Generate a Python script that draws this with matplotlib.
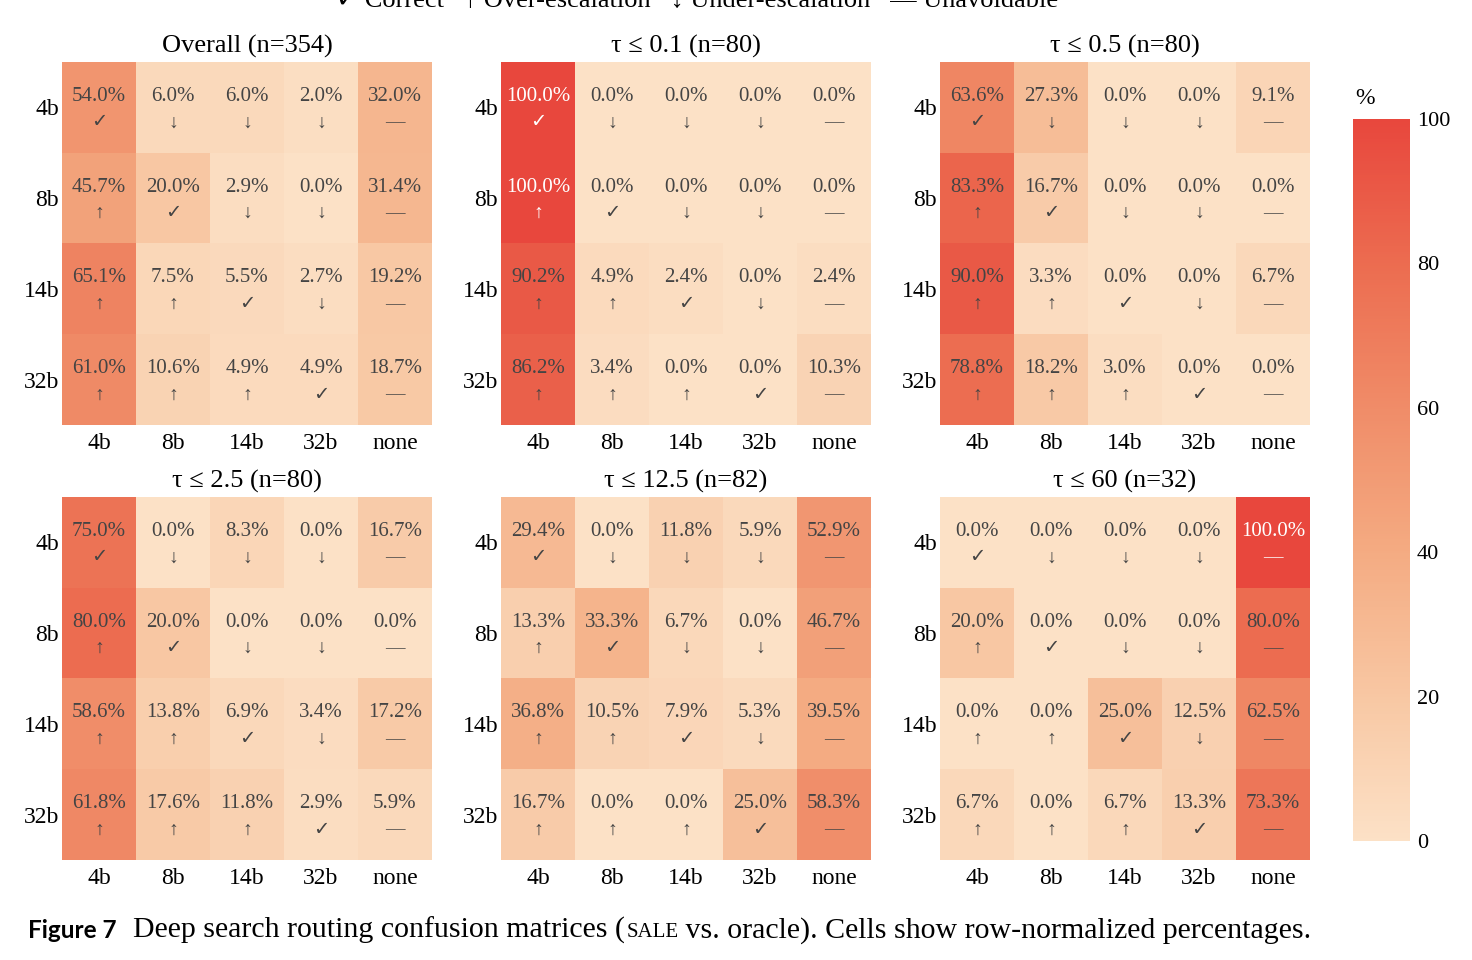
import numpy as np
import matplotlib
matplotlib.use("Agg")
import matplotlib.pyplot as plt
from matplotlib.colors import LinearSegmentedColormap
from matplotlib.text import Annotation

plt.rcParams['font.family'] = ['Liberation Serif', 'DejaVu Sans']

rows = ['4b', '8b', '14b', '32b']
cols = ['4b', '8b', '14b', '32b', 'none']

titles = ['Overall (n=354)', 'τ ≤ 0.1 (n=80)', 'τ ≤ 0.5 (n=80)',
          'τ ≤ 2.5 (n=80)', 'τ ≤ 12.5 (n=82)', 'τ ≤ 60 (n=32)']

overall = [[54.0, 6.0, 6.0, 2.0, 32.0],
           [45.7, 20.0, 2.9, 0.0, 31.4],
           [65.1, 7.5, 5.5, 2.7, 19.2],
           [61.0, 10.6, 4.9, 4.9, 18.7]]
tau_01 = [[100.0, 0.0, 0.0, 0.0, 0.0],
          [100.0, 0.0, 0.0, 0.0, 0.0],
          [90.2, 4.9, 2.4, 0.0, 2.4],
          [86.2, 3.4, 0.0, 0.0, 10.3]]
tau_05 = [[63.6, 27.3, 0.0, 0.0, 9.1],
          [83.3, 16.7, 0.0, 0.0, 0.0],
          [90.0, 3.3, 0.0, 0.0, 6.7],
          [78.8, 18.2, 3.0, 0.0, 0.0]]
tau_25 = [[75.0, 0.0, 8.3, 0.0, 16.7],
          [80.0, 20.0, 0.0, 0.0, 0.0],
          [58.6, 13.8, 6.9, 3.4, 17.2],
          [61.8, 17.6, 11.8, 2.9, 5.9]]
tau_125 = [[29.4, 0.0, 11.8, 5.9, 52.9],
           [13.3, 33.3, 6.7, 0.0, 46.7],
           [36.8, 10.5, 7.9, 5.3, 39.5],
           [16.7, 0.0, 0.0, 25.0, 58.3]]
tau_60 = [[0.0, 0.0, 0.0, 0.0, 100.0],
          [20.0, 0.0, 0.0, 0.0, 80.0],
          [0.0, 0.0, 25.0, 12.5, 62.5],
          [6.7, 0.0, 6.7, 13.3, 73.3]]
panels = [overall, tau_01, tau_05, tau_25, tau_125, tau_60]

cmap = LinearSegmentedColormap.from_list(
    'sale', ['#fce1c6', '#f8c7a3', '#f4ab82', '#f08c68', '#ec6c50', '#e8473d'])


def symbol(i, j):
    if cols[j] == 'none':
        return '—'
    if i == j:
        return '✓'
    return '↓' if j > i else '↑'


W, H = 1472, 960
fig = plt.figure(figsize=(W / 100, H / 100), dpi=100)

lefts = [62, 501, 940]
tops = [62, 497]
pw, ph = 370, 363

im = None
for k, data in enumerate(panels):
    r, c = divmod(k, 3)
    ax = fig.add_axes([lefts[c] / W, 1 - (tops[r] + ph) / H, pw / W, ph / H])
    arr = np.array(data)
    im = ax.imshow(arr, cmap=cmap, vmin=0, vmax=100, aspect='auto')
    for i in range(arr.shape[0]):
        for j in range(arr.shape[1]):
            tc = 'white' if arr[i, j] >= 95 else '#444444'
            ax.text(j, i - 0.12, f'{arr[i, j]:.1f}%', ha='center', va='center',
                    fontsize=15, color=tc)
            ax.text(j, i + 0.17, symbol(i, j), ha='center', va='center',
                    fontsize=14, color=tc)
    ax.set_xticks(range(len(cols)))
    ax.set_xticklabels(cols, fontsize=17)
    ax.set_yticks(range(len(rows)))
    ax.set_yticklabels(rows, fontsize=17)
    ax.tick_params(axis='x', length=0, pad=6)
    ax.tick_params(axis='y', length=0, pad=2)
    for s in ax.spines.values():
        s.set_visible(False)
    ax.set_title(titles[k], fontsize=19, pad=7)

cax = fig.add_axes([1353 / W, 1 - 841 / H, 57 / W, 722 / H])
cb = fig.colorbar(im, cax=cax)
cb.outline.set_visible(False)
cb.set_ticks([0, 20, 40, 60, 80, 100])
cb.ax.tick_params(length=0, labelsize=16, pad=5)
fig.text(1365 / W, 1 - 98 / H, '%', fontsize=17, ha='center', va='center')

# legend line at the very top (cut by the page edge, as in the source)
fig.text(697 / W, 1 - 1 / H,
         '✓ Correct   ↑ Over-escalation   ↓ Under-escalation   — Unavoidable',
         fontsize=19, ha='center', va='center')

# caption
fig.text(28 / W, 1 - 930 / H, 'Figure 7', fontsize=17.5, fontweight='bold',
         family='Lato', ha='left', va='center')
t1 = fig.text(133 / W, 1 - 930 / H, 'Deep search routing confusion matrices (',
              fontsize=21.5, ha='left', va='center')
t2 = fig.add_artist(Annotation(
    'SALE', xy=(1, 0), xycoords=t1, xytext=(1, 1.4), textcoords='offset points',
    fontsize=15, va='bottom', ha='left'))
fig.add_artist(Annotation(
    ' vs. oracle). Cells show row-normalized percentages.', xy=(1, 0), xycoords=t2,
    xytext=(0, -1.4), textcoords='offset points', fontsize=21.5, va='bottom', ha='left'))

fig.savefig('out.png', dpi=100)
